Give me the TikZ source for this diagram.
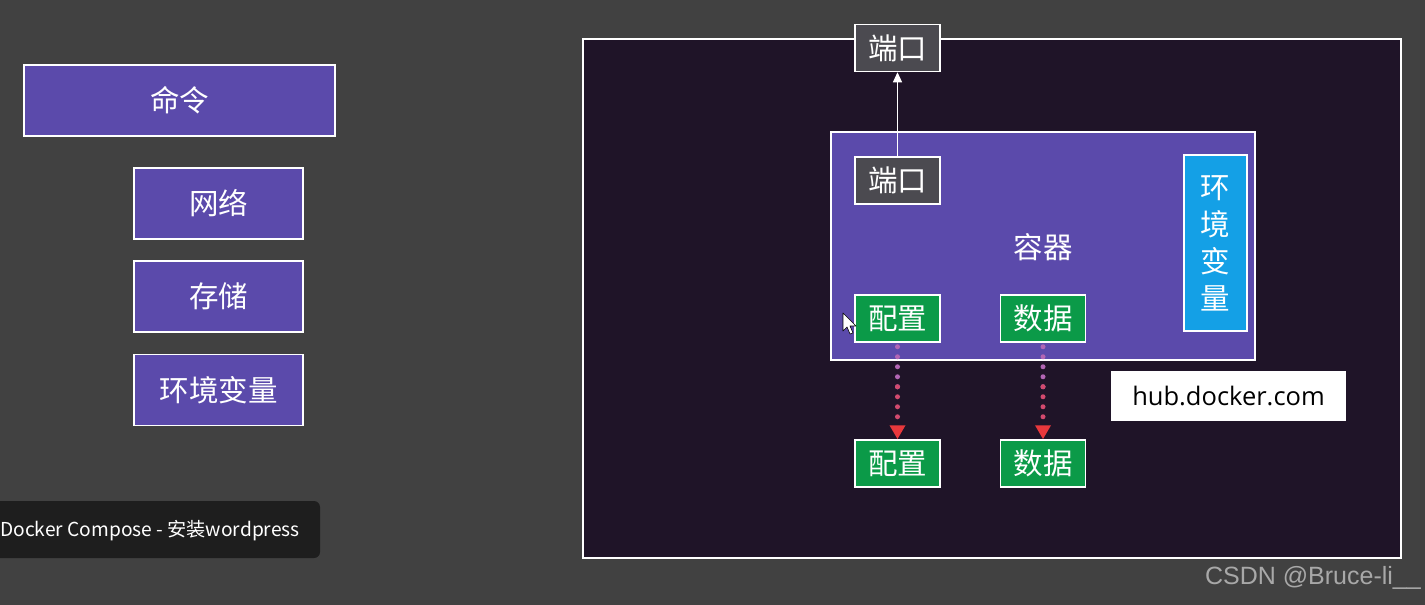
\documentclass[tikz,border=0pt]{standalone}
\usepackage{fontspec}
\setmainfont{Noto Sans CJK SC}
\newfontfamily\hubfont{Open Sans}
\newfontfamily\markfont{Liberation Sans}
\usetikzlibrary{arrows.meta}
\definecolor{bggray}{HTML}{414141}
\definecolor{boxpurple}{HTML}{5B4AAB}
\definecolor{framedark}{HTML}{1F1428}
\definecolor{portgray}{HTML}{4B4A50}
\definecolor{filegreen}{HTML}{0B9A48}
\definecolor{envblue}{HTML}{14A0E6}
\definecolor{capblack}{HTML}{1E1E1E}
\definecolor{dotpurple}{HTML}{B266B4}
\definecolor{dotred}{HTML}{D24A6E}
\definecolor{arrowred}{HTML}{E8383C}
\definecolor{markgray}{HTML}{A8A8A8}
\tikzset{
    box/.style={draw=white, line width=1.5pt, text=white, inner sep=0pt,
        font=\fontsize{29.5}{33}\selectfont},
    cmdbox/.style={box, fill=boxpurple, minimum width=169pt, minimum height=71pt},
    portbox/.style={box, fill=portgray, minimum width=85pt, minimum height=47pt},
    filebox/.style={box, fill=filegreen, minimum width=85pt, minimum height=47pt},
    dotline/.style={dotpurple, line width=5pt, line cap=round,
        dash pattern=on 0pt off 10pt},
    dottip/.style={dotred, line width=5pt, line cap=round,
        dash pattern=on 0pt off 10pt, -{Triangle[color=arrowred, length=14pt, width=15pt]}}
}
\begin{document}
\begin{tikzpicture}[x=1pt, y=-1pt]
    \useasboundingbox (0, 0) rectangle (1425, 605);
    \clip (0, 0) rectangle (1425, 605);
    \fill[bggray] (0, 0) rectangle (1425, 605);

    % 左侧命令列表
    \node[cmdbox, minimum width=311pt] (cmd) at (179.5, 100.5) {命令};
    \node[cmdbox] (net) at (218.5, 203.5) {网络};
    \node[cmdbox] (store) at (218.5, 296.5) {存储};
    \node[cmdbox] (envl) at (218.5, 390) {环境变量};

    % 视频标题
    \fill[capblack, rounded corners=6pt] (-10, 501) rectangle (320, 558);
    \node[anchor=west, text=white, font=\fontsize{19.2}{22}\selectfont, inner sep=0pt]
        (cap) at (0, 531) {Docker Compose - 安装wordpress};

    % 主机
    \draw[white, line width=1.5pt, fill=framedark] (583, 39) rectangle (1401, 558);
    \node[portbox] (portout) at (897.5, 48) {端口};

    % 容器
    \node[box, fill=boxpurple, minimum width=424pt, minimum height=228pt] (ctr) at (1043, 246) {};
    \node[text=white, font=\fontsize{29.5}{33}\selectfont] (ctrlabel) at (1043, 247) {容器};
    \node[portbox] (portin) at (897.5, 180.5) {端口};
    \node[box, fill=envblue, minimum width=63pt, minimum height=176pt, align=center,
        font=\fontsize{29.5}{37}\selectfont] (envr) at (1215.5, 243) {环\\境\\变\\量};
    \node[filebox] (cfgin) at (897.5, 318.5) {配置};
    \node[filebox] (datain) at (1043, 318.5) {数据};

    % 挂载目录
    \node[filebox] (cfgout) at (897.5, 463.5) {配置};
    \node[filebox] (dataout) at (1043, 463.5) {数据};

    \node[fill=white, minimum width=235pt, minimum height=50pt, inner sep=0pt,
        font=\hubfont\fontsize{25.5}{28}\selectfont] (hub) at (1228.5, 396) {hub.docker.com};

    % 箭头
    \draw[white, line width=1pt, -{Triangle[length=10pt, width=9pt]}] (portin) -- (portout);
    \draw[dotline] ([yshift=-4pt]cfgin.south) -- ([yshift=48pt]cfgout.north);
    \draw[dottip] ([yshift=-44pt]cfgin.south) -- (cfgout.north);
    \draw[dotline] ([yshift=-4pt]datain.south) -- ([yshift=48pt]dataout.north);
    \draw[dottip] ([yshift=-44pt]datain.south) -- (dataout.north);

    % 鼠标指针
    \draw[black, fill=white, line width=0.6pt, line join=round]
        (843, 313) -- (843, 331) -- (847, 327) -- (850, 334) -- (853, 333)
        -- (850, 326) -- (856, 326) -- cycle;

    % 水印
    \node[anchor=east, text=markgray, font=\markfont\fontsize{25}{28}\selectfont, inner sep=0pt]
        (mark) at (1421, 578) {CSDN @Bruce-li\_\_};
\end{tikzpicture}
\end{document}
